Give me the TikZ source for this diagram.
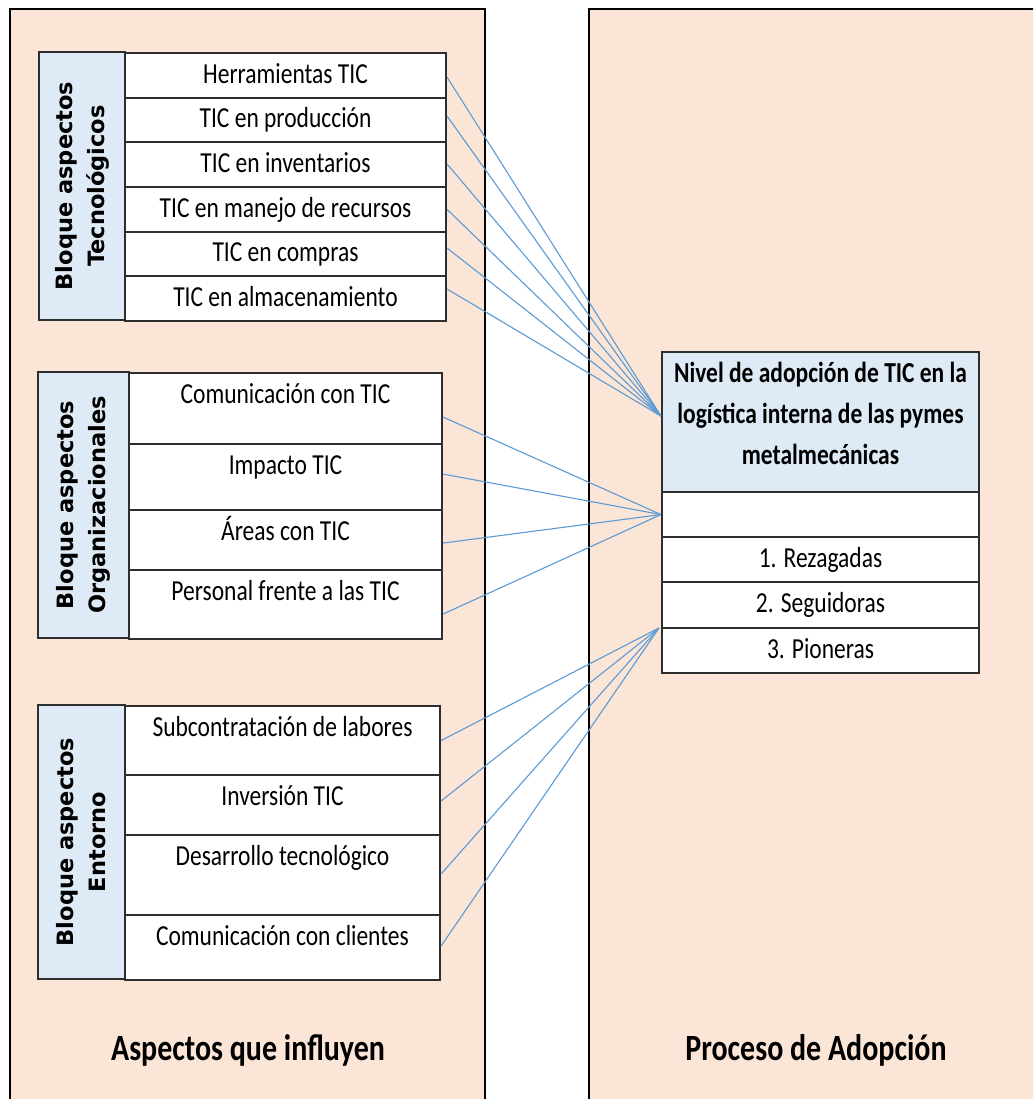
\documentclass[tikz,border=0pt]{standalone}
\usepackage{fontspec}
\setmainfont{Carlito}[FakeStretch=0.81]
\newfontfamily\lblfont{DejaVu Sans}
\definecolor{peach}{HTML}{FBE5D6}
\definecolor{labelblue}{HTML}{DEEBF7}
\definecolor{connblue}{HTML}{5B9BD5}
\definecolor{boxline}{HTML}{2E2E2E}
\newcommand\myrowfont{\fontsize{29}{35}\selectfont}
\begin{document}
\begin{tikzpicture}[x=1pt,y=-1pt,
  panel/.style={draw=black,line width=2.6pt,fill=peach},
  row/.style={draw=boxline,line width=2.1pt,fill=white,inner sep=0pt,anchor=north,text height=30pt,font=\myrowfont},
  lab/.style={draw=boxline,line width=2.1pt,fill=labelblue,rotate=90,inner sep=0pt,align=center,
    font={\lblfont\bfseries\fontsize{22.5}{32}\selectfont}},
  conn/.style={draw=connblue,line width=1.1pt},
  title/.style={anchor=base,inner sep=0pt,font={\bfseries\fontsize{37}{44}\selectfont}}]
\clip (0,0) rectangle (1033,1099);
\fill[white] (0,0) rectangle (1033,1099);
\draw[panel] (10,9) rectangle (485,1130);
\draw[panel] (589,9) rectangle (1060,1130);
% Block 1
\node[lab,minimum width=268pt,minimum height=86pt] (L1) at (82,186) {Bloque aspectos\\Tecnológicos};
\node[row,minimum width=321pt,text depth=14.67pt] (t1) at (285.5,52) {Herramientas TIC};
\node[row,minimum width=321pt,text depth=14.67pt] (t2) at (285.5,96.67) {TIC en producción};
\node[row,minimum width=321pt,text depth=14.67pt] (t3) at (285.5,141.33) {TIC en inventarios};
\node[row,minimum width=321pt,text depth=14.67pt] (t4) at (285.5,186) {TIC en manejo de recursos};
\node[row,minimum width=321pt,text depth=14.67pt] (t5) at (285.5,230.67) {TIC en compras};
\node[row,minimum width=321pt,text depth=14.67pt] (t6) at (285.5,275.33) {TIC en almacenamiento};
% Block 2
\node[lab,minimum width=266pt,minimum height=91pt] (L2) at (83.5,505) {Bloque aspectos\\Organizacionales};
\node[row,minimum width=313pt,text depth=41pt] (o1) at (285.5,372) {Comunicación con TIC};
\node[row,minimum width=313pt,text depth=36pt] (o2) at (285.5,443) {Impacto TIC};
\node[row,minimum width=313pt,text depth=30pt] (o3) at (285.5,509) {Áreas con TIC};
\node[row,minimum width=313pt,text depth=39pt] (o4) at (285.5,569) {Personal frente a las TIC};
% Block 3
\node[lab,minimum width=274pt,minimum height=87pt] (L3) at (81.5,842) {Bloque aspectos\\Entorno};
\node[row,minimum width=315pt,text depth=39pt] (e1) at (282.5,705) {Subcontratación de labores};
\node[row,minimum width=315pt,text depth=30pt] (e2) at (282.5,774) {Inversión TIC};
\node[row,minimum width=315pt,text depth=50pt] (e3) at (282.5,834) {Desarrollo tecnológico};
\node[row,minimum width=315pt,text depth=35pt] (e4) at (282.5,914) {Comunicación con clientes};
% Right box
\node[row,fill=labelblue,minimum width=317pt,text depth=110pt,font={\myrowfont\bfseries}] (hdr) at (820.5,351)
  {\baselineskip=41pt\vtop{\halign{\hfil#\hfil\cr Nivel de adopción de TIC en la\cr logística interna de las pymes\cr metalmecánicas\cr}}};
\node[row,minimum width=317pt,text depth=15pt] (emp) at (820.5,491) {};
\node[row,minimum width=317pt,text depth=15pt] (r1) at (820.5,536) {1. Rezagadas};
\node[row,minimum width=317pt,text depth=16pt] (r2) at (820.5,581) {2. Seguidoras};
\node[row,minimum width=317pt,text depth=15pt] (r3) at (820.5,627) {3. Pioneras};
% Connectors
\coordinate (h1) at ([yshift=6pt]hdr.west);
\draw[conn] ([yshift=-1.7pt]t1.east) -- (h1);
\draw[conn] ([yshift=4pt]t2.east) -- (h1);
\draw[conn] ([yshift=0.7pt]t3.east) -- (h1);
\draw[conn] (t4.east) -- (h1);
\draw[conn] ([yshift=6pt]t5.east) -- (h1);
\draw[conn] ([yshift=9.7pt]t6.east) -- (h1);
\draw[conn] ([yshift=-8.5pt]o1.east) -- (emp.west);
\draw[conn] ([yshift=3pt]o2.east) -- (emp.west);
\draw[conn] ([yshift=-3pt]o3.east) -- (emp.west);
\draw[conn] ([yshift=-9.5pt]o4.east) -- (emp.west);
\coordinate (h3) at ([xshift=-2pt,yshift=-1pt]r3.north west);
\draw[conn] (e1.east) -- (h3);
\draw[conn] ([yshift=4pt]e2.east) -- (h3);
\draw[conn] ([yshift=1pt]e3.east) -- (h3);
\draw[conn] ([yshift=1.5pt]e4.east) -- (h3);
% Titles
\node[title] (ta) at (248,1060) {Aspectos que influyen};
\node[title] (tp) at (816,1060) {Proceso de Adopción};
\end{tikzpicture}
\end{document}
